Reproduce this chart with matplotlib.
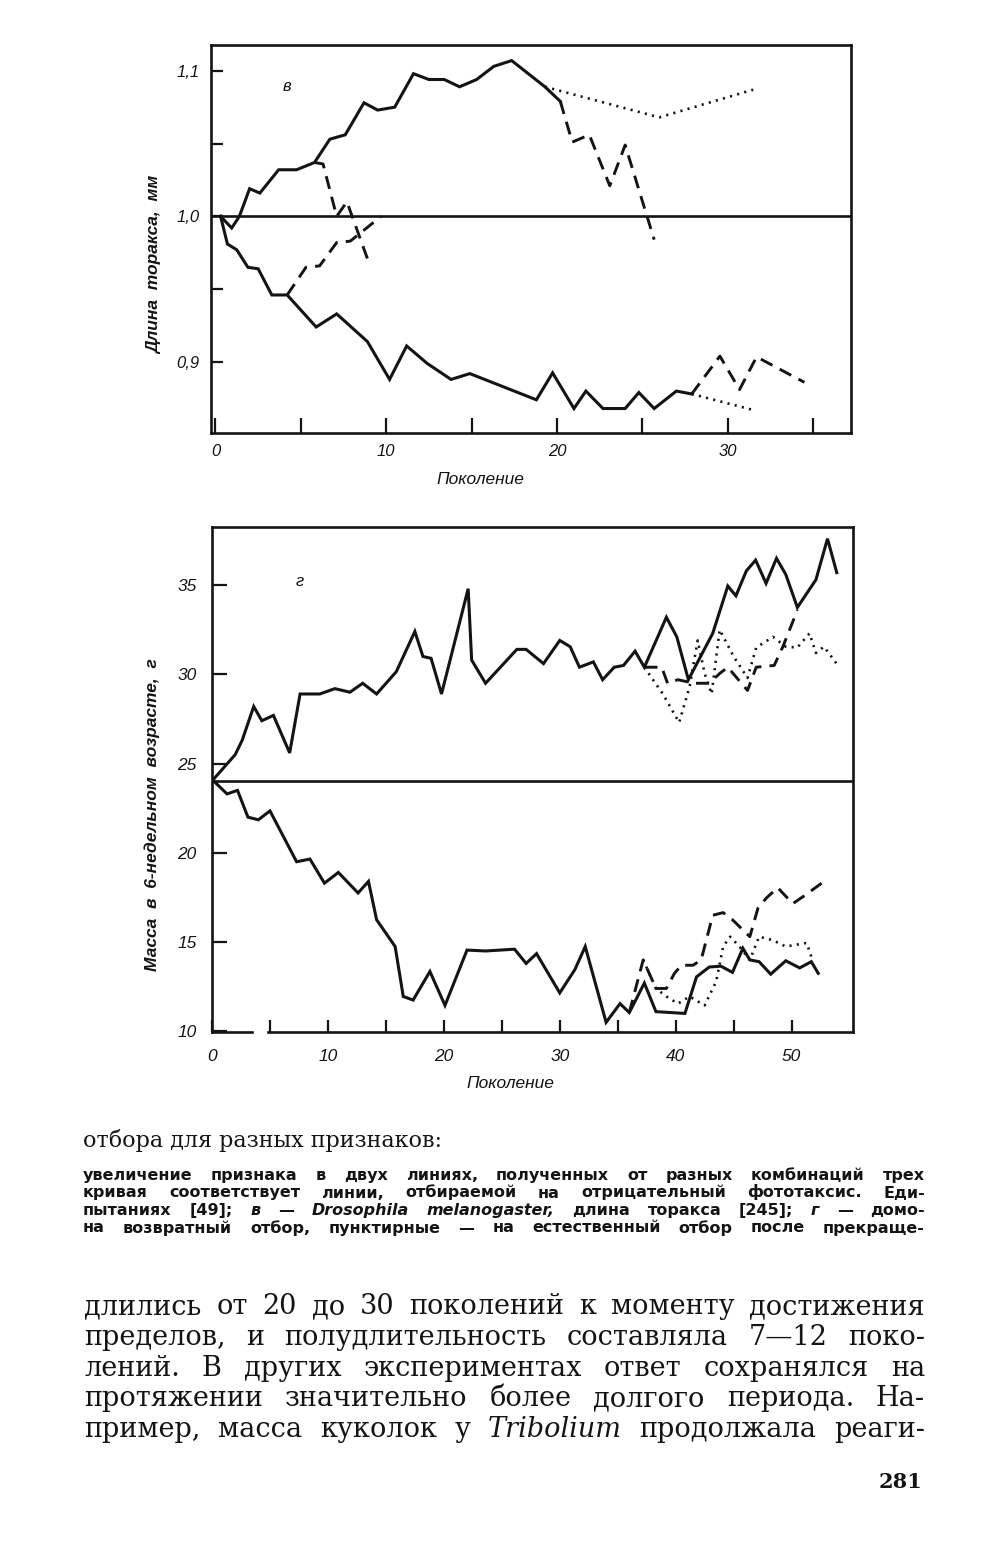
import numpy as np
import matplotlib
matplotlib.use('Agg')
import matplotlib.pyplot as plt

# ---- data ----
# upper chart (в): thorax length, mm
top_up_x = [0.3, 0.95, 1.4, 2.0, 2.6, 3.7, 4.75, 5.8, 6.7, 7.6, 8.7, 9.5, 10.5, 11.6, 12.5,
            13.4, 14.3, 15.3, 16.3, 17.35, 19.3, 20.2]
top_up_y = [1.0, 0.992, 1.0, 1.019, 1.016, 1.032, 1.032, 1.037, 1.053, 1.056, 1.078, 1.073,
            1.075, 1.098, 1.094, 1.094, 1.089, 1.094, 1.103, 1.107, 1.089, 1.079]
top_up_dash_x = [20.2, 20.9, 21.9, 23.1, 24.0, 25.7]
top_up_dash_y = [1.079, 1.051, 1.056, 1.021, 1.049, 0.984]
top_up_dot_x = [19.3, 26.0, 31.5]
top_up_dot_y = [1.089, 1.068, 1.087]

top_down_x = [0.3, 0.7, 1.25, 1.9, 2.5, 3.3, 4.2, 5.9, 7.1, 8.9, 10.2, 11.2, 12.4, 13.8, 14.9,
              18.8, 19.75, 21.0, 21.7, 22.7, 24.0, 24.8, 25.7, 27.0, 27.9]
top_down_y = [1.0, 0.981, 0.977, 0.965, 0.964, 0.946, 0.946, 0.924, 0.933, 0.914, 0.888, 0.911,
              0.899, 0.888, 0.892, 0.874, 0.8925, 0.868, 0.880, 0.868, 0.868, 0.879, 0.868,
              0.880, 0.878]
top_down_dash_x = [27.9, 29.55, 30.7, 31.7, 34.5]
top_down_dash_y = [0.878, 0.904, 0.881, 0.9035, 0.886]
top_down_dot_x = [27.9, 31.5]
top_down_dot_y = [0.878, 0.867]

top_rev_a_x = [5.8, 6.3, 7.1, 7.7, 8.9]
top_rev_a_y = [1.037, 1.036, 1.0, 1.01, 0.971]
top_rev_b_x = [4.2, 5.3, 6.1, 7.1, 7.9, 9.7]
top_rev_b_y = [0.946, 0.965, 0.966, 0.982, 0.983, 1.0]

# lower chart (г): mass at 6 weeks, g
bot_up_x = [0.1, 2.0, 2.6, 3.6, 4.3, 5.3, 6.7, 7.6, 9.3, 10.6, 11.9, 13.0, 14.2, 15.9, 17.5,
            18.2, 18.9, 19.8, 22.1, 22.4, 23.6, 26.3, 27.1, 28.6, 30.0, 30.9, 31.7, 32.9,
            33.7, 34.7, 35.5, 36.5, 37.3, 39.2, 40.1, 41.1, 43.2, 44.5, 45.2, 46.1, 46.9,
            47.8, 48.7, 49.5, 50.5, 52.1, 53.1, 53.9]
bot_up_y = [24.1, 25.5, 26.3, 28.2, 27.4, 27.7, 25.6, 28.9, 28.9, 29.2, 29.0, 29.5, 28.9,
            30.15, 32.4, 31.0, 30.9, 28.9, 34.8, 30.8, 29.5, 31.4, 31.4, 30.6, 31.9, 31.55,
            30.4, 30.7, 29.7, 30.4, 30.5, 31.3, 30.4, 33.2, 32.1, 29.7, 32.3, 34.95, 34.4,
            35.8, 36.4, 35.1, 36.5, 35.6, 33.75, 35.3, 37.6, 35.7]
bot_up_dash_x = [37.3, 38.8, 39.3, 40.2, 41.6, 42.9, 43.8, 44.5, 46.2, 46.95, 48.5, 49.25, 50.5]
bot_up_dash_y = [30.4, 30.4, 29.5, 29.7, 29.5, 29.5, 30.05, 30.4, 29.1, 30.4, 30.5, 31.55, 33.6]
bot_up_dot_x = [37.3, 38.9, 40.3, 41.2, 41.9, 42.5, 43.1, 43.8, 45.0, 46.2, 46.95, 48.4, 49.5,
                50.5, 51.55, 52.1, 52.8, 54.0]
bot_up_dot_y = [30.4, 28.9, 27.3, 29.3, 31.9, 30.05, 28.9, 32.5, 31.0, 29.8, 31.5, 32.1, 31.55,
                31.5, 32.3, 31.2, 31.55, 30.5]

bot_down_x = [0.1, 1.3, 2.2, 3.1, 4.0, 5.0, 7.3, 8.45, 9.7, 10.9, 12.6, 13.5, 14.2, 15.8, 16.5,
              17.35, 18.8, 20.1, 22.0, 23.6, 26.1, 27.1, 28.0, 30.0, 31.3, 32.2, 34.0, 35.2,
              36.0, 37.3, 38.3, 40.8, 41.8, 42.9, 43.9, 44.9, 45.8, 46.4, 47.2, 48.2, 49.5,
              50.7, 51.7, 52.3]
bot_down_y = [24.05, 23.3, 23.5, 22.0, 21.85, 22.35, 19.5, 19.65, 18.3, 18.9, 17.75, 18.4,
              16.25, 14.75, 11.95, 11.75, 13.35, 11.45, 14.55, 14.5, 14.6, 13.8, 14.35, 12.15,
              13.45, 14.75, 10.5, 11.55, 11.05, 12.7, 11.1, 11.0, 13.05, 13.6, 13.65, 13.3,
              14.65, 14.0, 13.9, 13.2, 13.95, 13.55, 13.9, 13.25]
bot_down_dash_x = [36.0, 37.2, 38.3, 39.2, 39.9, 40.5, 41.5, 42.2, 43.2, 44.1, 44.9, 46.4,
                   47.1, 47.8, 48.8, 50.1, 51.0, 52.6]
bot_down_dash_y = [11.05, 14.0, 12.4, 12.4, 13.25, 13.7, 13.7, 14.0, 16.5, 16.65, 16.25, 15.3,
                   16.9, 17.45, 18.05, 17.15, 17.55, 18.3]
bot_down_dot_x = [37.2, 38.3, 39.2, 40.2, 41.2, 42.5, 43.5, 44.1, 44.7, 45.5, 46.4, 47.2,
                  48.4, 49.5, 51.3, 51.8]
bot_down_dot_y = [14.0, 12.4, 11.95, 11.55, 11.95, 11.45, 12.8, 14.75, 15.3, 14.75, 14.0, 15.3,
                  15.1, 14.75, 14.95, 14.0]

top_xticklabels = ['0', '', '10', '', '20', '', '30', '']
top_yticklabels = ['0,9', '', '1,0', '', '1,1']
bot_xticklabels = ['0', '', '10', '', '20', '', '30', '', '40', '', '50']
bot_yticklabels = ['10', '15', '20', '25', '30', '35']

heading = 'отбора для разных признаков:'
caption = [
    'увеличение признака в двух линиях, полученных от разных комбинаций трех',
    'кривая соответствует линии, отбираемой на отрицательный фототаксис. Еди-',
    'пытаниях [49]; *в* — *Drosophila* *melanogaster*, длина торакса [245]; *г* — домо-',
    'на возвратный отбор, пунктирные — на естественный отбор после прекраще-',
]
body = [
    'длились от 20 до 30 поколений к моменту достижения',
    'пределов, и полудлительность составляла 7—12 поко-',
    'лений. В других экспериментах ответ сохранялся на',
    'протяжении значительно более долгого периода. На-',
    'пример, масса куколок у *Tribolium* продолжала реаги-',
]
page_no = '281'

# ---- figure ----
plt.rcParams['font.family'] = ['Liberation Sans', 'DejaVu Sans']
W, H = 1008, 1568
fig = plt.figure(figsize=(W / 100, H / 100), dpi=100)
renderer = fig.canvas.get_renderer()
ink = '#141414'


def box(l, t, r, b):
    return [l / W, 1 - b / H, (r - l) / W, (b - t) / H]


def px(x, y):
    return x / W, 1 - y / H


def style_axes(ax):
    for s in ax.spines.values():
        s.set_linewidth(1.9)
        s.set_color(ink)


solid = dict(color=ink, lw=2.2, solid_joinstyle='miter')
dashed = dict(color=ink, lw=2.1, linestyle=(0, (4.5, 2.8)))
dotted = dict(color=ink, lw=1.9, linestyle=(0, (0.8, 2.0)))

# upper chart
ax1 = fig.add_axes(box(210.7, 45, 851, 433))
style_axes(ax1)
ax1.axhline(1.0, color=ink, lw=1.9)
ax1.plot(top_up_x, top_up_y, **solid)
ax1.plot(top_up_dash_x, top_up_dash_y, **dashed)
ax1.plot(top_up_dot_x, top_up_dot_y, **dotted)
ax1.plot(top_down_x, top_down_y, **solid)
ax1.plot(top_down_dash_x, top_down_dash_y, **dashed)
ax1.plot(top_down_dot_x, top_down_dot_y, **dotted)
ax1.plot(top_rev_a_x, top_rev_a_y, **dashed)
ax1.plot(top_rev_b_x, top_rev_b_y, **dashed)
ax1.set_xlim(-0.28, 37.23)
ax1.set_ylim(0.8512, 1.1177)
ax1.set_xticks(np.arange(0, 36, 5))
ax1.set_xticklabels(top_xticklabels)
ax1.set_yticks([0.9, 0.95, 1.0, 1.05, 1.1])
ax1.set_yticklabels(top_yticklabels)
ax1.tick_params(axis='x', direction='in', length=10.5, width=1.6, pad=8, labelsize=12, colors=ink)
ax1.tick_params(axis='y', direction='in', length=8.5, width=1.6, pad=8, labelsize=12, colors=ink)
for t in ax1.get_xticklabels() + ax1.get_yticklabels():
    t.set_style('italic')
ax1.text(4.2, 1.089, 'в', style='italic', fontsize=12, color=ink, ha='center', va='center')
fig.text(*px(480, 480), 'Поколение', style='italic', fontsize=12.5, color=ink,
         ha='center', va='center')
fig.text(*px(155, 265), 'Длина  торакса,  мм', style='italic', weight='bold', fontsize=12.5,
         color=ink, rotation=90, ha='center', va='center')

# lower chart
ax2 = fig.add_axes(box(212, 527.3, 853, 1032))
style_axes(ax2)
ax2.spines['bottom'].set_visible(False)
ax2.plot([0, 0.062], [0, 0], transform=ax2.transAxes, clip_on=False, color=ink, lw=1.9)
ax2.plot([0.088, 1], [0, 0], transform=ax2.transAxes, clip_on=False, color=ink, lw=1.9)
ax2.axhline(24.05, color=ink, lw=1.9)
ax2.plot(bot_up_x, bot_up_y, **solid)
ax2.plot(bot_up_dash_x, bot_up_dash_y, **dashed)
ax2.plot(bot_up_dot_x, bot_up_dot_y, **dotted)
ax2.plot(bot_down_x, bot_down_y, **solid)
ax2.plot(bot_down_dash_x, bot_down_dash_y, **dashed)
ax2.plot(bot_down_dot_x, bot_down_dot_y, **dotted)
ax2.set_xlim(0, 55.3)
ax2.set_ylim(9.96, 38.24)
ax2.set_xticks(np.arange(0, 51, 5))
ax2.set_xticklabels(bot_xticklabels)
ax2.set_yticks([10, 15, 20, 25, 30, 35])
ax2.set_yticklabels(bot_yticklabels)
ax2.tick_params(axis='x', direction='in', length=8.5, width=1.6, pad=12, labelsize=12.5, colors=ink)
ax2.tick_params(axis='y', direction='in', length=10.5, width=1.6, pad=11, labelsize=12.5, colors=ink)
for t in ax2.get_xticklabels() + ax2.get_yticklabels():
    t.set_style('italic')
ax2.text(7.6, 35.2, 'г', style='italic', fontsize=12, color=ink, ha='center', va='center')
fig.text(*px(510, 1083), 'Поколение', style='italic', fontsize=12.5, color=ink,
         ha='center', va='center')
fig.text(*px(152, 815), 'Масса  в  6-недельном  возрасте,  г', style='italic', weight='bold',
         fontsize=12.5, color=ink, rotation=90, ha='center', va='center')


# ---- page text, justified by hand ----
def put_line(line, y, x0, x1, **kw):
    words = []
    for w in line.split(' '):
        st = 'italic' if '*' in w else 'normal'
        words.append((w.replace('*', ''), st))
    widths = []
    for w, st in words:
        t = fig.text(0, 0, w, style=st, **kw)
        widths.append(t.get_window_extent(renderer).width)
        t.remove()
    gap = (x1 - x0 - sum(widths)) / (len(words) - 1)
    x = x0
    for (w, st), ww in zip(words, widths):
        fig.text(*px(x, y), w, style=st, ha='left', va='baseline', color=ink, **kw)
        x += ww + gap


serif = ['DejaVu Serif']
fig.text(*px(83, 1147), heading, family=serif, fontsize=16, color=ink,
         ha='left', va='baseline')
for i, line in enumerate(caption):
    put_line(line, 1180 + i * 17.5, 83, 925, family=['DejaVu Sans'], weight='bold', fontsize=11.5)
for i, line in enumerate(body):
    put_line(line, 1314 + i * 30.8, 84, 925, family=serif, fontsize=19.5)
fig.text(*px(922, 1488), page_no, family=serif, weight='bold', fontsize=15, color=ink,
         ha='right', va='baseline')

fig.savefig('out.png', dpi=100, facecolor='white')
